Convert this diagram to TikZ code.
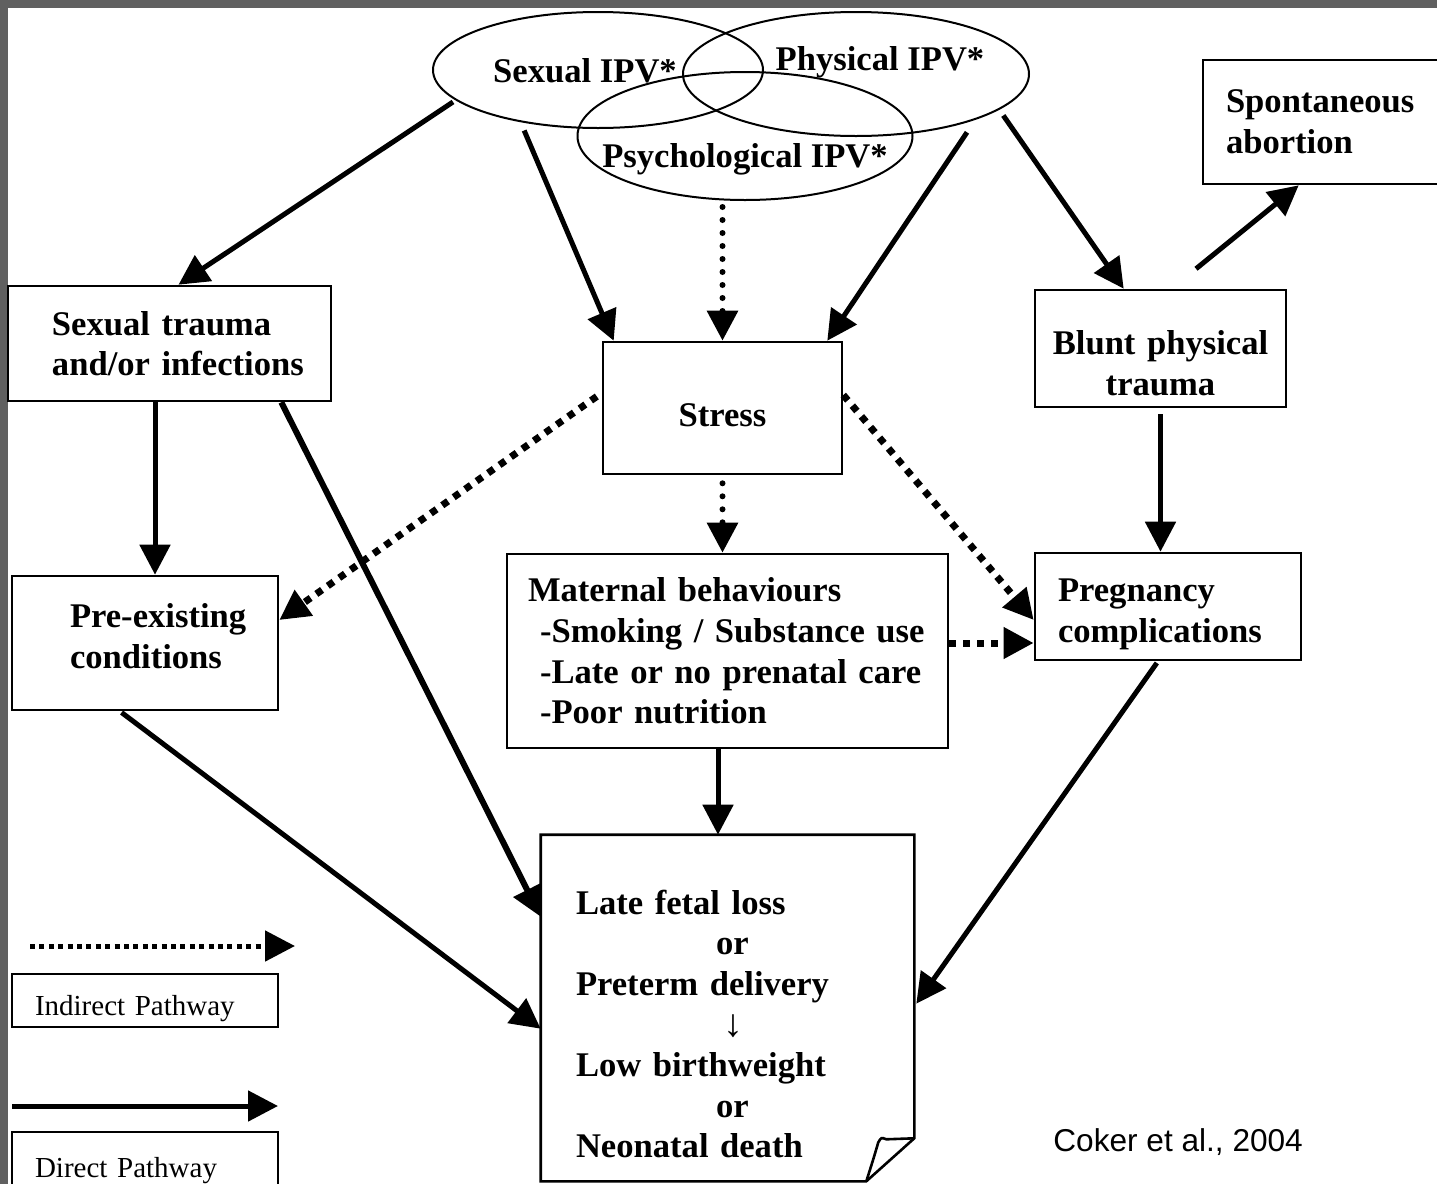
\documentclass[tikz,border=0pt]{standalone}
\usepackage{fontspec}
\usepackage{graphicx}
\setmainfont{Liberation Serif}
\newfontfamily\cokerfont{Liberation Sans}
\usetikzlibrary{arrows.meta,shapes.geometric,calc}
\definecolor{framegray}{HTML}{606060}
\begin{document}
\begin{tikzpicture}[x=0.5pt,y=-0.5pt,
  boxnode/.style={draw, line width=1.3pt, inner sep=0pt, font=\fontsize{17.3}{20.3}\selectfont\bfseries},
  ipv/.style={draw, ellipse, line width=1pt, inner sep=0pt},
  ipvtext/.style={inner sep=0pt, font=\fontsize{17.3}{20.3}\selectfont\bfseries},
  legbox/.style={draw, line width=1.3pt, inner sep=0pt, font=\fontsize{14.5}{17}\selectfont, align=left},
  dirarrow/.style={line width=2.5pt, -{Triangle[length=15pt,width=15pt]}},
  indarrow/.style={line width=3.5pt, dash pattern=on 3.5pt off 3.5pt, -{Triangle[length=15pt,width=15pt]}},
  indarrowv/.style={line width=3pt, line cap=round, dash pattern=on 0pt off 6.5pt, -{Triangle[length=15pt,width=15pt]}},
]
\useasboundingbox (0,0) rectangle (1437,1184);
\fill[white] (0,0) rectangle (1437,1184);
\fill[framegray] (0,0) rectangle (1437,8);
\fill[framegray] (0,0) rectangle (8,1184);

% IPV ellipses
\node[ipv, minimum width=165pt, minimum height=58pt] (sexE) at (598,70) {};
\node[ipv, minimum width=173pt, minimum height=62pt] (phyE) at (856,74) {};
\node[ipv, minimum width=167.5pt, minimum height=64pt] (psyE) at (745,136) {};
\node[ipvtext] (sexT) at (585,71) {Sexual IPV*};
\node[ipvtext] (phyT) at (880,62) {Physical IPV*};
\node[ipvtext] (psyT) at (745,159) {Psychological IPV*};

% boxes
\node[boxnode, minimum width=161.5pt, minimum height=57.5pt, text width=117.5pt, inner xsep=22pt, align=left] (strauma) at (169.5,343.5) {\mbox{Sexual trauma}\\\mbox{and/or infections}};
\node[boxnode, minimum width=119.5pt, minimum height=66pt, text width=119.5pt, align=center] (stress) at (722.5,408) {\rule{0pt}{19pt}Stress};
\node[boxnode, minimum width=125.5pt, minimum height=58.5pt, text width=125.5pt, align=center] (blunt) at (1160.5,348.5) {\rule{0pt}{27pt}\mbox{Blunt physical}\\trauma};
\node[boxnode, minimum width=122pt, minimum height=62pt, text width=99pt, inner xsep=11.5pt, align=left] (spont) at (1325,122) {\mbox{Spontaneous}\\\mbox{abortion}};
\node[boxnode, minimum width=133pt, minimum height=67pt, text width=75pt, inner xsep=29pt, align=left] (preex) at (145,643) {\mbox{Pre-existing}\\\mbox{conditions}\rule[-7pt]{0pt}{0pt}};
\node[boxnode, minimum width=220.5pt, minimum height=97pt, text width=199.5pt, inner xsep=10.5pt, align=left] (mat) at (727.5,651) {\mbox{Maternal behaviours}\\\mbox{\hspace*{6pt}-Smoking / Substance use}\\\mbox{\hspace*{6pt}-Late or no prenatal care}\\\mbox{\hspace*{6pt}-Poor nutrition}};
\node[boxnode, minimum width=133pt, minimum height=53.5pt, text width=110pt, inner xsep=11.5pt, align=left] (preg) at (1168,606.5) {\rule{0pt}{19pt}\mbox{Pregnancy}\\\mbox{complications}};
\node[boxnode, draw=none, minimum width=185.5pt, minimum height=172pt, text width=151.5pt, inner xsep=17pt, align=left] (out) at (727.5,1008) {\rule{0pt}{28pt}\mbox{Late fetal loss}\\\hspace*{70pt}or\\\mbox{Preterm delivery}\\\hspace*{73.5pt}\raisebox{-0.5pt}[0pt][0pt]{\scalebox{1.15}[1.12]{\mdseries ↓}}\\\mbox{Low birthweight}\\\hspace*{70pt}or\\\mbox{Neonatal death}};
\draw[line width=1.3pt] (out.north west) -- (out.north east) -- ($(out.south east)+(0,-43)$) -- ($(out.south east)+(-48,0)$) -- (out.south west) -- cycle;
\draw[line width=1.3pt] ($(out.south east)+(0,-43)$) -- ($(out.south east)+(-28,-42)$) .. controls ($(out.south east)+(-33,-44)$) .. ($(out.south east)+(-36,-39)$) .. controls ($(out.south east)+(-41,-22)$) .. ($(out.south east)+(-48,0)$);

% legend
\coordinate (liA) at (30,946);
\coordinate (liB) at (295,946);
\draw[indarrow, line width=2.5pt, dash pattern=on 2.5pt off 2.2pt] (liA) -- (liB);
\node[legbox, minimum width=133pt, minimum height=26.5pt, text width=110pt, inner xsep=11.5pt] (lgI) at (145,1000.5) {\rule{0pt}{18pt}\mbox{Indirect Pathway}};
\coordinate (ldA) at (12,1106);
\coordinate (ldB) at (278,1106);
\draw[dirarrow] (ldA) -- (ldB);
\node[legbox, minimum width=133pt, minimum height=35pt, text width=110pt, inner xsep=11.5pt] (lgD) at (145,1167) {\rule{0pt}{14pt}\mbox{Direct Pathway}};

\node[anchor=west, inner sep=0pt, font=\cokerfont\fontsize{15.8}{19}\selectfont] (cite) at (1053,1142) {Coker et al., 2004};

% connectors
\draw[dirarrow, shorten <=1.5pt] (sexE.192) -- ($(strauma.north)+(9,0)$);
\draw[dirarrow, shorten <=4.5pt] (sexE.214) -- ($(stress.north west)+(12,0)$);
\draw[indarrowv, shorten <=3pt] (psyE.south -| stress.north) -- (stress.north);
\draw[dirarrow, shorten <=7.5pt] (phyE.-21) -- ($(stress.north east)+(-16,0)$);
\draw[dirarrow, shorten <=3.5pt] (phyE.-14) -- ($(blunt.north west)+(90,0)$);
\draw[dirarrow, shorten <=15.8pt] ($(blunt.north)+(11,0)$) -- ($(spont.south west)+(97,0)$);
\draw[dirarrow] ($(strauma.south)+(-14.5,0)$) -- ($(preex.north)+(10,0)$);
\draw[dirarrow, line width=3pt] ($(strauma.south east)+(-51,0)$) -- ($(out.north west)+(0,82)$);
\draw[indarrow, shorten <=3pt] ($(stress.west)+(0,-15)$) -- ($(preex.east)+(0,-23)$);
\draw[indarrowv, shorten <=4pt] (stress.south) -- (stress.south |- mat.north);
\draw[indarrow] ($(stress.east)+(0,-13)$) -- ($(preg.west)+(0,13.5)$);
\draw[indarrow] ($(mat.east)+(0,-8)$) -- ($(preg.west)+(0,36.5)$);
\draw[dirarrow, shorten <=3pt] (blunt.south) -- (blunt.south |- preg.north);
\draw[dirarrow] ($(mat.south)+(-9.5,0)$) -- ($(out.north)+(-9.5,0)$);
\draw[dirarrow, shorten <=1pt] ($(preex.south)+(-25,0)$) -- ($(out.north west)+(0,194)$);
\draw[dirarrow, shorten <=1pt] ($(preg.south)+(-10,0)$) -- ($(out.north east)+(2,169)$);
\end{tikzpicture}
\end{document}
